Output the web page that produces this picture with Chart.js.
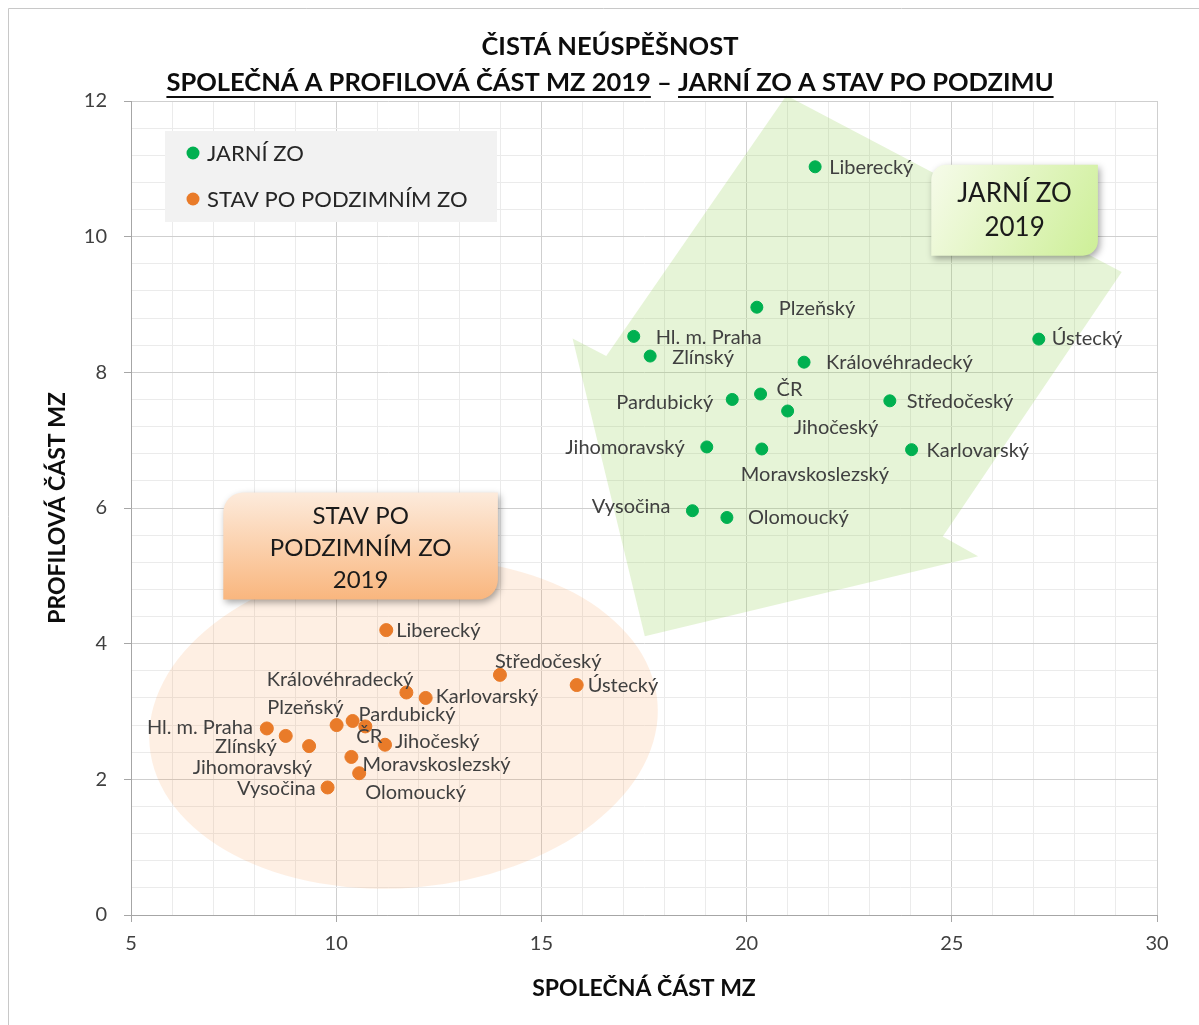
<!DOCTYPE html>
<html lang="cs">
<head>
<meta charset="utf-8">
<title>Čistá neúspěšnost MZ 2019</title>
<script src="https://cdn.jsdelivr.net/npm/chart.js@4.4.1/dist/chart.umd.min.js"></script>
<style>
  html, body { margin: 0; padding: 0; background: #fff; }
  #wrap { position: relative; width: 1199px; height: 1025px; }
</style>
</head>
<body>
<div id="wrap"><canvas id="myChart" width="1199" height="1025"></canvas></div>
<script>
// kraje (stejné pořadí ve všech polích)
const regions = ['Hl. m. Praha', 'Středočeský', 'Jihočeský', 'Plzeňský', 'Karlovarský', 'Ústecký', 'Liberecký',
  'Královéhradecký', 'Pardubický', 'Vysočina', 'Jihomoravský', 'Olomoucký', 'Zlínský', 'Moravskoslezský', 'ČR'];

// jarní ZO – společná část (x) a profilová část (y)
const jarniX = [17.25, 23.49, 21.00, 20.25, 24.02, 27.12, 21.67, 21.40, 19.65, 18.68, 19.03, 19.52, 17.65, 20.37, 20.34];
const jarniY = [8.53, 7.58, 7.43, 8.96, 6.86, 8.49, 11.03, 8.15, 7.60, 5.96, 6.90, 5.86, 8.24, 6.87, 7.68];

// stav po podzimním ZO
const podzimX = [8.31, 13.99, 11.19, 10.01, 12.18, 15.86, 11.22, 11.71, 10.40, 9.79, 9.34, 10.56, 8.77, 10.37, 10.71];
const podzimY = [2.75, 3.54, 2.51, 2.80, 3.20, 3.39, 4.20, 3.28, 2.86, 1.88, 2.49, 2.09, 2.64, 2.33, 2.78];

const xTickLabels = [5, 10, 15, 20, 25, 30];
const yTickLabels = [0, 2, 4, 6, 8, 10, 12];

const FONT = 'Lato, "Open Sans", sans-serif';
const green = '#00b050';
const orange = '#e97b29';

// umístění popisků bodů: [zarovnání, dx, dy] v pixelech od bodu
const labelLayout = [
  {
    'Hl. m. Praha': ['left', 22, 1], 'Středočeský': ['left', 17, 1], 'Jihočeský': ['left', 6, 17],
    'Plzeňský': ['left', 22, 1], 'Karlovarský': ['left', 15, 1], 'Ústecký': ['left', 13, -1],
    'Liberecký': ['left', 14, 1], 'Královéhradecký': ['left', 22, 0], 'Pardubický': ['right', -19, 3],
    'Vysočina': ['right', -22, -4], 'Jihomoravský': ['right', -22, 1], 'Olomoucký': ['left', 21, 0],
    'Zlínský': ['left', 22, 1], 'Moravskoslezský': ['left', -21, 26], 'ČR': ['left', 16, -4]
  },
  {
    'Hl. m. Praha': ['right', -14, -1], 'Středočeský': ['left', -5, -13], 'Jihočeský': ['left', 10, -3],
    'Plzeňský': ['right', 7, -18], 'Karlovarský': ['left', 10, -1], 'Ústecký': ['left', 11, 1],
    'Liberecký': ['left', 10, 0], 'Královéhradecký': ['right', 7, -13], 'Pardubický': ['left', 6, -6],
    'Vysočina': ['right', -12, 1], 'Jihomoravský': ['right', 3, 21], 'Olomoucký': ['left', 6, 19],
    'Zlínský': ['right', -9, 11], 'Moravskoslezský': ['left', 11, 8], 'ČR': ['left', -9, 10]
  }
];

function toPoints(xs, ys) {
  return xs.map((x, i) => ({ x: x, y: ys[i] }));
}

// hlavní dílky + vedlejší (5 dílků mezi hlavními)
function subdivide(labels, n) {
  const out = [];
  for (let i = 0; i < labels.length - 1; i++) {
    for (let k = 0; k < n; k++) {
      out.push(k === 0 ? labels[i] : labels[i] + (labels[i + 1] - labels[i]) * k / n);
    }
  }
  out.push(labels[labels.length - 1]);
  return out;
}

function diagRect(ctx, x0, y0, x1, y1, r) {
  ctx.beginPath();
  ctx.moveTo(x0 + r, y0);
  ctx.lineTo(x1, y0);
  ctx.lineTo(x1, y1 - r);
  ctx.arcTo(x1, y1, x1 - r, y1, r);
  ctx.lineTo(x0, y1);
  ctx.lineTo(x0, y0 + r);
  ctx.arcTo(x0, y0, x0 + r, y0, r);
  ctx.closePath();
}

const decorPlugin = {
  id: 'decor',
  beforeDraw(chart) {
    const ctx = chart.ctx;
    ctx.save();
    ctx.fillStyle = '#fff';
    ctx.fillRect(0, 0, chart.width, chart.height);
    ctx.strokeStyle = '#c8c8c8';
    ctx.lineWidth = 1;
    ctx.beginPath();
    ctx.moveTo(8.5, chart.height);
    ctx.lineTo(8.5, 8.5);
    ctx.lineTo(chart.width, 8.5);
    ctx.stroke();
    ctx.restore();
  },
  beforeDatasetsDraw(chart) {
    const ctx = chart.ctx;
    const sx = chart.scales.x, sy = chart.scales.y;
    const px = v => sx.getPixelForValue(v), py = v => sy.getPixelForValue(v);
    ctx.save();

    // zelená šipka
    const arrow = [[20.97, 12.08], [29.14, 9.48], [24.78, 5.58], [25.64, 5.29], [17.52, 4.11], [15.76, 8.50], [16.58, 8.24]];
    ctx.beginPath();
    arrow.forEach((p, i) => i ? ctx.lineTo(px(p[0]), py(p[1])) : ctx.moveTo(px(p[0]), py(p[1])));
    ctx.closePath();
    ctx.fillStyle = 'rgba(146, 208, 80, 0.23)';
    ctx.fill();

    // oranžová elipsa
    const cx = px(11.64), cy = py(2.82);
    const rx = px(11.64 + 6.21) - cx, ry = cy - py(2.82 + 2.42);
    ctx.beginPath();
    ctx.ellipse(cx, cy, rx, ry, -5 * Math.PI / 180, 0, Math.PI * 2);
    ctx.fillStyle = 'rgba(247, 150, 70, 0.15)';
    ctx.fill();

    // popisky JARNÍ ZO 2019
    let x0 = px(24.50), x1 = px(28.56), y0 = py(11.06), y1 = py(9.72);
    ctx.save();
    ctx.shadowColor = 'rgba(0,0,0,0.35)';
    ctx.shadowBlur = 7;
    ctx.shadowOffsetX = 2;
    ctx.shadowOffsetY = 3;
    let g = ctx.createLinearGradient(x0, y0, x1, y1);
    g.addColorStop(0, '#f6fbea');
    g.addColorStop(1, '#cdef97');
    diagRect(ctx, x0, y0, x1, y1, 15);
    ctx.fillStyle = g;
    ctx.fill();
    ctx.restore();
    ctx.fillStyle = '#1a1a1a';
    ctx.textAlign = 'center';
    ctx.textBaseline = 'middle';
    ctx.font = '26px ' + FONT;
    ctx.fillText('JARNÍ ZO', (x0 + x1) / 2, y0 + 29);
    ctx.fillText('2019', (x0 + x1) / 2, y0 + 63);

    // STAV PO PODZIMNÍM ZO 2019
    x0 = px(7.25); x1 = px(13.94); y0 = py(6.23); y1 = py(4.65);
    ctx.save();
    ctx.shadowColor = 'rgba(0,0,0,0.35)';
    ctx.shadowBlur = 7;
    ctx.shadowOffsetX = 2;
    ctx.shadowOffsetY = 3;
    g = ctx.createLinearGradient(0, y0, 0, y1);
    g.addColorStop(0, '#fdebdc');
    g.addColorStop(1, '#f9b67e');
    diagRect(ctx, x0, y0, x1, y1, 20);
    ctx.fillStyle = g;
    ctx.fill();
    ctx.restore();
    ctx.fillStyle = '#1a1a1a';
    ctx.font = '24px ' + FONT;
    const mx = (x0 + x1) / 2;
    ctx.fillText('STAV PO', mx, y0 + 24);
    ctx.fillText('PODZIMNÍM ZO', mx, y0 + 56);
    ctx.fillText('2019', mx, y0 + 88);

    ctx.restore();
  },
  afterDatasetsDraw(chart) {
    const ctx = chart.ctx;
    ctx.save();
    // popisky bodů
    ctx.font = '20px ' + FONT;
    ctx.fillStyle = '#404040';
    ctx.textBaseline = 'middle';
    chart.data.datasets.forEach((ds, d) => {
      const meta = chart.getDatasetMeta(d);
      meta.data.forEach((pt, i) => {
        const name = regions[i];
        const lay = labelLayout[d][name];
        ctx.textAlign = lay[0];
        ctx.fillText(name, pt.x + lay[1], pt.y + lay[2]);
      });
    });

    // legenda
    const a = chart.chartArea;
    const lx = a.left + 34, ly = a.top + 30;
    ctx.fillStyle = '#f2f2f2';
    ctx.fillRect(lx, ly, 332, 91);
    ctx.font = '22px ' + FONT;
    ctx.textAlign = 'left';
    chart.data.datasets.forEach((ds, d) => {
      const yy = ly + 22 + d * 46;
      ctx.beginPath();
      ctx.arc(lx + 28, yy, 6.5, 0, Math.PI * 2);
      ctx.fillStyle = ds.backgroundColor;
      ctx.fill();
      ctx.fillStyle = '#262626';
      ctx.fillText(ds.label, lx + 42, yy + 1);
    });
    ctx.restore();
  },
  afterDraw(chart) {
    const ctx = chart.ctx;
    const a = chart.chartArea;
    ctx.save();
    ctx.fillStyle = '#0d0d0d';
    ctx.strokeStyle = '#0d0d0d';
    ctx.textBaseline = 'middle';
    ctx.textAlign = 'left';
    ctx.font = 'bold 25.5px ' + FONT;
    const cx = 610;
    const t1 = 'ČISTÁ NEÚSPĚŠNOST';
    ctx.fillText(t1, cx - ctx.measureText(t1).width / 2, 47);

    const pA = 'SPOLEČNÁ A PROFILOVÁ ČÁST MZ 2019', sep = ' – ', pB = 'JARNÍ ZO A STAV PO PODZIMU';
    const wA = ctx.measureText(pA).width, wS = ctx.measureText(sep).width, wB = ctx.measureText(pB).width;
    const start = cx - (wA + wS + wB) / 2;
    ctx.fillText(pA + sep + pB, start, 83);
    ctx.lineWidth = 2;
    ctx.beginPath();
    ctx.moveTo(start, 97); ctx.lineTo(start + wA, 97);
    ctx.moveTo(start + wA + wS, 97); ctx.lineTo(start + wA + wS + wB, 97);
    ctx.stroke();

    // názvy os
    ctx.font = 'bold 23px ' + FONT;
    ctx.textAlign = 'center';
    ctx.fillText('SPOLEČNÁ ČÁST MZ', (a.left + a.right) / 2, 989);
    ctx.translate(58, (a.top + a.bottom) / 2);
    ctx.rotate(-Math.PI / 2);
    ctx.fillText('PROFILOVÁ ČÁST MZ', 0, 0);
    ctx.restore();
  }
};

const config = {
  type: 'scatter',
  data: {
    datasets: [
      {
        label: 'JARNÍ ZO',
        data: toPoints(jarniX, jarniY),
        backgroundColor: green,
        borderColor: green,
        pointRadius: 6,
        pointHoverRadius: 6
      },
      {
        label: 'STAV PO PODZIMNÍM ZO',
        data: toPoints(podzimX, podzimY),
        backgroundColor: orange,
        borderColor: orange,
        pointRadius: 6.5,
        pointHoverRadius: 6.5
      }
    ]
  },
  options: {
    responsive: false,
    devicePixelRatio: 1,
    animation: false,
    layout: { padding: { left: 0, top: 101, right: 42, bottom: 0 } },
    plugins: {
      legend: { display: false },
      tooltip: { enabled: false },
      title: { display: false }
    },
    scales: {
      x: {
        type: 'linear',
        min: 5,
        max: 30,
        afterBuildTicks: axis => { axis.ticks = subdivide(xTickLabels, 5).map(v => ({ value: v })); },
        afterFit: scale => { scale.height = 110; },
        ticks: {
          autoSkip: false,
          maxRotation: 0,
          padding: 10,
          color: '#404040',
          font: { family: FONT, size: 20 },
          callback: v => xTickLabels.includes(v) ? v : ''
        },
        grid: {
          color: c => c.tick && xTickLabels.includes(c.tick.value) ? '#cfcfcf' : '#ebebeb',
          tickColor: c => c.tick && xTickLabels.includes(c.tick.value) ? '#a6a6a6' : 'rgba(0,0,0,0)',
          tickLength: 7
        },
        border: { color: '#a6a6a6' }
      },
      y: {
        type: 'linear',
        min: 0,
        max: 12,
        afterBuildTicks: axis => { axis.ticks = subdivide(yTickLabels, 5).map(v => ({ value: v })); },
        afterFit: scale => { scale.width = 131; },
        ticks: {
          autoSkip: false,
          padding: 17,
          color: '#404040',
          font: { family: FONT, size: 20 },
          callback: v => yTickLabels.includes(v) ? v : ''
        },
        grid: {
          color: c => c.tick && yTickLabels.includes(c.tick.value) ? '#cfcfcf' : '#ebebeb',
          tickColor: c => c.tick && yTickLabels.includes(c.tick.value) ? '#a6a6a6' : 'rgba(0,0,0,0)',
          tickLength: 7
        },
        border: { color: '#a6a6a6' }
      }
    }
  },
  plugins: [decorPlugin]
};

const myChart = new Chart(document.getElementById('myChart'), config);
</script>
</body>
</html>
